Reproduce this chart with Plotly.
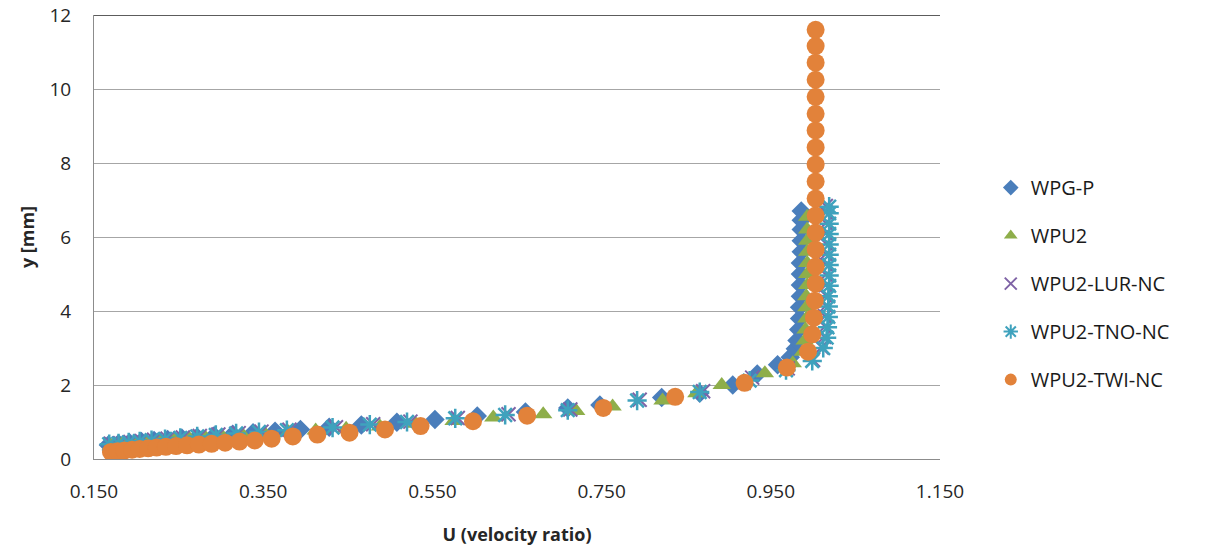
import plotly.graph_objects as go

# ---- data ----
wpgp_u = [0.167, 0.179, 0.192, 0.206, 0.221, 0.237, 0.254, 0.272, 0.292, 0.314,
          0.338, 0.364, 0.394, 0.428, 0.466, 0.508, 0.553, 0.603, 0.660, 0.710,
          0.748, 0.821, 0.866, 0.905, 0.934, 0.958, 0.973, 0.979,
          0.981, 0.983, 0.984, 0.984, 0.985, 0.985, 0.985, 0.985, 0.986, 0.986,
          0.986, 0.986, 0.986]
wpgp_y = [0.38, 0.41, 0.44, 0.47, 0.50, 0.53, 0.56, 0.59, 0.63, 0.67,
          0.71, 0.75, 0.80, 0.86, 0.92, 0.99, 1.07, 1.16, 1.27, 1.38,
          1.46, 1.66, 1.78, 2.00, 2.30, 2.55, 2.75, 2.98,
          3.20, 3.50, 3.80, 4.10, 4.40, 4.70, 5.00, 5.30, 5.60, 5.90,
          6.20, 6.45, 6.70]

wpu2_u = [0.170, 0.183, 0.197, 0.212, 0.228, 0.245, 0.263, 0.282, 0.302, 0.326,
          0.352, 0.380, 0.412, 0.448, 0.488, 0.530, 0.575, 0.622, 0.681, 0.720,
          0.763, 0.822, 0.862, 0.892, 0.943, 0.976, 0.988,
          0.990, 0.991, 0.992, 0.992, 0.992, 0.993, 0.993, 0.993, 0.993, 0.993,
          0.993, 0.993]
wpu2_y = [0.36, 0.39, 0.42, 0.45, 0.48, 0.51, 0.54, 0.57, 0.60, 0.64,
          0.68, 0.72, 0.77, 0.82, 0.88, 0.95, 1.03, 1.12, 1.21, 1.30,
          1.42, 1.58, 1.78, 2.00, 2.32, 2.59, 2.90,
          3.20, 3.50, 3.80, 4.10, 4.40, 4.70, 5.00, 5.30, 5.60, 5.90,
          6.20, 6.55]

lur_u = [0.170, 0.181, 0.193, 0.206, 0.221, 0.237, 0.255, 0.275, 0.297, 0.321,
         0.348, 0.381, 0.436, 0.480, 0.524, 0.580, 0.640, 0.713, 0.795, 0.870,
         0.928, 0.970, 1.000, 1.010, 1.013, 1.014, 1.014, 1.015, 1.015, 1.015,
         1.015, 1.015, 1.015, 1.015, 1.015, 1.015, 1.015, 1.015]
lur_y = [0.41, 0.43, 0.46, 0.49, 0.52, 0.55, 0.58, 0.62, 0.66, 0.70,
         0.74, 0.79, 0.86, 0.94, 1.01, 1.11, 1.21, 1.34, 1.60, 1.83,
         2.20, 2.45, 2.68, 3.02, 3.30, 3.58, 3.86, 4.14, 4.42, 4.70,
         4.98, 5.26, 5.54, 5.82, 6.10, 6.38, 6.66, 6.84]

tno_u = [0.168, 0.179, 0.191, 0.204, 0.218, 0.234, 0.252, 0.272, 0.294, 0.318,
         0.345, 0.378, 0.432, 0.476, 0.520, 0.577, 0.636, 0.710, 0.792, 0.866,
         0.925, 0.968, 0.999, 1.012, 1.016, 1.017, 1.018, 1.018, 1.018, 1.019,
         1.019, 1.019, 1.019, 1.019, 1.019, 1.019, 1.019, 1.019]
tno_y = [0.40, 0.42, 0.45, 0.48, 0.51, 0.54, 0.57, 0.61, 0.65, 0.69,
         0.73, 0.78, 0.85, 0.93, 1.00, 1.10, 1.19, 1.32, 1.58, 1.81,
         2.12, 2.40, 2.65, 3.00, 3.28, 3.56, 3.84, 4.12, 4.40, 4.68,
         4.96, 5.24, 5.52, 5.80, 6.08, 6.36, 6.64, 6.82]

twi_u = [0.170, 0.178, 0.186, 0.195, 0.204, 0.214, 0.224, 0.235, 0.247, 0.260,
         0.274, 0.289, 0.305, 0.322, 0.340, 0.360, 0.385, 0.414, 0.452, 0.494,
         0.536, 0.598, 0.662, 0.752, 0.837, 0.919, 0.969,
         0.994, 0.999, 1.001, 1.002, 1.003, 1.003, 1.003, 1.003, 1.003, 1.003,
         1.003, 1.003, 1.003, 1.003, 1.003, 1.003, 1.003, 1.003, 1.003, 1.003]
twi_y = [0.19, 0.21, 0.23, 0.25, 0.27, 0.29, 0.31, 0.33, 0.35, 0.37,
         0.39, 0.41, 0.44, 0.47, 0.50, 0.55, 0.61, 0.66, 0.71, 0.80,
         0.89, 1.02, 1.17, 1.38, 1.68, 2.06, 2.47,
         2.90, 3.37, 3.82, 4.28, 4.74, 5.20, 5.66, 6.12, 6.58, 7.04,
         7.50, 7.96, 8.42, 8.88, 9.33, 9.79, 10.25, 10.71, 11.16, 11.60]

x_ticks = [0.15, 0.35, 0.55, 0.75, 0.95, 1.15]
y_ticks = [0, 2, 4, 6, 8, 10, 12]

FONT = "'Open Sans', Lato, sans-serif"

series = [
    ("WPG-P", wpgp_u, wpgp_y, dict(symbol="diamond", size=15, color="#4A7EBB")),
    ("WPU2", wpu2_u, wpu2_y, dict(symbol="triangle-up", size=16, color="#8EAE4A")),
    ("WPU2-LUR-NC", lur_u, lur_y, dict(symbol="x-thin-open", size=14, color="#7F63A6",
                                        line=dict(width=2, color="#7F63A6"))),
    ("WPU2-TNO-NC", tno_u, tno_y, dict(symbol="asterisk-open", size=16, color="#3FA2BD",
                                        line=dict(width=2.5, color="#3FA2BD"))),
    ("WPU2-TWI-NC", twi_u, twi_y, dict(symbol="circle", size=18, color="#E2823A")),
]

fig = go.Figure()
for i, (name, u, y, mk) in enumerate(series):
    fig.add_trace(go.Scatter(x=u, y=y, mode="markers", name=name, marker=mk,
                             legendgroup=f"g{i}"))

fig.update_layout(
    width=1205, height=551,
    paper_bgcolor="white", plot_bgcolor="white",
    margin=dict(l=94, r=265, t=15, b=92, autoexpand=False),
    font=dict(family=FONT, size=19, color="#000000"),
    legend=dict(x=1.060, xanchor="left", y=0.395, yanchor="middle",
                tracegroupgap=19, font=dict(size=20, color="#1a1a1a"),
                itemsizing="constant", bgcolor="rgba(0,0,0,0)"),
    xaxis=dict(range=[0.15, 1.15], tickvals=x_ticks, tickformat=".3f",
               automargin=False, ticklabeloverflow="allow",
               showgrid=False, zeroline=False, showline=True, linecolor="#8C8C8C",
               linewidth=1, ticks="", ticklabelstandoff=15,
               tickfont=dict(size=19, color="#262626"),
               title=dict(text="<b>U (velocity ratio)</b>", standoff=25,
                          font=dict(size=18, color="#262626"))),
    yaxis=dict(range=[0, 12], tickvals=y_ticks, showgrid=True, automargin=False,
               ticklabeloverflow="allow",
               gridcolor="#A6A6A6", gridwidth=1, zeroline=False,
               showline=True, linecolor="#8C8C8C", linewidth=1, ticks="",
               ticklabelstandoff=18, tickfont=dict(size=19, color="#262626"),
               title=dict(text="<b>y [mm]</b>", standoff=10,
                          font=dict(size=18, color="#262626"))),
    showlegend=True,
)
fig.add_shape(type="line", xref="paper", yref="y", x0=0, x1=1, y0=12, y1=12,
              line=dict(color="#262626", width=1.5), layer="below")

fig.write_html("out.html",
               config={"displayModeBar": False},
               post_script="document.body.style.margin='0';")
